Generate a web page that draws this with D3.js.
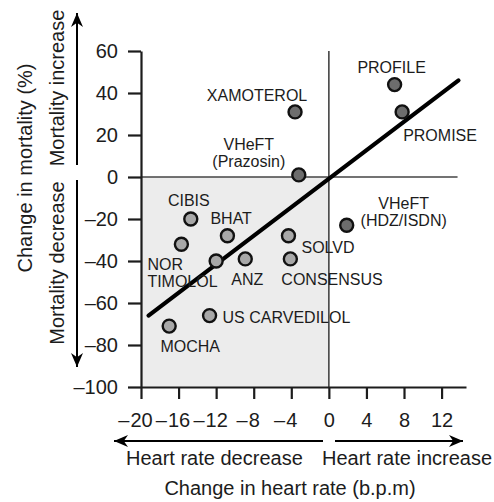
<!DOCTYPE html>
<html>
<head>
<meta charset="utf-8">
<script src="https://cdn.jsdelivr.net/npm/d3@7"></script>
<style>
  body { margin: 0; background: #fff; }
  svg { display: block; font-family: "Liberation Sans", Arial, sans-serif; }
</style>
</head>
<body>
<div id="chart"></div>
<script>
// trial data
const trials = ["PROFILE", "PROMISE", "XAMOTEROL", "VHeFT (Prazosin)", "VHeFT (HDZ/ISDN)",
                "SOLVD", "CONSENSUS", "CIBIS", "BHAT", "NOR TIMOLOL", "TIMOLOL pt", "ANZ",
                "US CARVEDILOL", "MOCHA"];
const heartRate = [7, 7.8, -3.6, -3.2, 1.9, -4.3, -4.1, -14.7, -10.8, -15.7, -12, -8.9, -12.7, -17];
const mortality = [44, 31, 31, 1, -23, -28, -39, -20, -28, -32, -40, -39, -66, -71];
const increased = [true, true, true, true, true, false, false, false, false, false, false, false, false, false];

// label text lines for each trial
const labelLines = [["PROFILE"], ["PROMISE"], ["XAMOTEROL"], ["VHeFT", "(Prazosin)"], ["VHeFT", "(HDZ/ISDN)"],
                    ["SOLVD"], ["CONSENSUS"], ["CIBIS"], ["BHAT"], ["NOR", "TIMOLOL"], [], ["ANZ"],
                    ["US CARVEDILOL"], ["MOCHA"]];

// regression line end points
const fitX = [-19.2, 13.8];
const fitY = [-66, 46];

const xTicks = [-20, -16, -12, -8, -4, 0, 4, 8, 12];
const yTicks = [-100, -80, -60, -40, -20, 0, 20, 40, 60];

// label placement (px offsets from the point, anchor)
const labelPlace = [
  { dx: -3, dy: -12, a: "middle" },
  { dx: 1, dy: 29, a: "start" },
  { dx: -38, dy: -11, a: "middle" },
  { dx: -50, dy: -25, a: "middle" },
  { dx: 57, dy: -16, a: "middle" },
  { dx: 13, dy: 17, a: "start" },
  { dx: -9, dy: 26, a: "start" },
  { dx: -2, dy: -13, a: "middle" },
  { dx: -17, dy: -12, a: "start" },
  { dx: -34, dy: 26, a: "start" },
  { dx: 0, dy: 0, a: "start" },
  { dx: 2, dy: 26, a: "middle" },
  { dx: 13, dy: 7, a: "start" },
  { dx: 21, dy: 26, a: "middle" }
];

const W = 494, H = 502;
const ink = "#1c1c1c";

const svg = d3.select("#chart").append("svg")
    .attr("width", W)
    .attr("height", H);

const x = d3.scaleLinear().domain([-20, 14.6]).range([141, 466]);
const y = d3.scaleLinear().domain([-100, 60]).range([387, 51]);

// shaded quadrant (heart rate down, mortality down)
svg.append("rect")
    .attr("x", x(-20))
    .attr("y", y(0))
    .attr("width", x(0) - x(-20))
    .attr("height", y(-100) - y(0))
    .attr("fill", "#ececec");

// zero lines
svg.append("line")
    .attr("x1", x(0)).attr("x2", x(0))
    .attr("y1", y(60)).attr("y2", y(-100))
    .attr("stroke", "#444").attr("stroke-width", 1.6);
svg.append("line")
    .attr("x1", x(-20)).attr("x2", x(13.7))
    .attr("y1", y(0)).attr("y2", y(0))
    .attr("stroke", "#444").attr("stroke-width", 1.6);

// axes
function styleAxis(g) {
  g.select(".domain").attr("stroke", ink).attr("stroke-width", 2.2);
  g.selectAll(".tick line").attr("stroke", ink).attr("stroke-width", 2.2);
  g.selectAll(".tick text").attr("fill", ink).style("font-size", "20px");
}

const xAxis = svg.append("g")
    .attr("transform", `translate(0,${y(-100)})`)
    .call(d3.axisBottom(x).tickValues(xTicks).tickSize(12).tickSizeOuter(0).tickPadding(14)
            .tickFormat(d => Math.abs(d)))
    .call(styleAxis);

// hang the minus sign to the left of the digits so the digits sit on the tick
xAxis.selectAll(".tick").each(function(d) {
  if (d >= 0) return;
  const t = d3.select(this).select("text");
  const w = t.node().getComputedTextLength();
  d3.select(this).append("text")
      .attr("x", -w / 2 - 1)
      .attr("y", t.attr("y"))
      .attr("dy", t.attr("dy"))
      .attr("text-anchor", "end")
      .attr("fill", ink)
      .style("font-size", "20px")
      .text("\u2013");
});

svg.append("g")
    .attr("transform", `translate(${x(-20)},0)`)
    .call(d3.axisLeft(y).tickValues(yTicks).tickSize(13).tickSizeOuter(0).tickPadding(10)
            .tickFormat(d => d < 0 ? "\u2013" + Math.abs(d) : d))
    .call(styleAxis);

// fitted line
svg.append("line")
    .attr("x1", x(fitX[0])).attr("y1", y(fitY[0]))
    .attr("x2", x(fitX[1])).attr("y2", y(fitY[1]))
    .attr("stroke", "#000")
    .attr("stroke-width", 4.2)
    .attr("stroke-linecap", "round");

// points
const pts = trials.map((t, i) => ({ name: t, hr: heartRate[i], m: mortality[i], up: increased[i], i }));

svg.selectAll(".dot")
  .data(pts)
  .enter().append("circle")
    .attr("class", "dot")
    .attr("cx", d => x(d.hr))
    .attr("cy", d => y(d.m))
    .attr("r", 6.5)
    .attr("fill", d => d.up ? "#6d6d6d" : "#a8a8a8")
    .attr("stroke", "#111")
    .attr("stroke-width", 2.4);

// point labels
pts.forEach(d => {
  const p = labelPlace[d.i];
  const lines = labelLines[d.i];
  lines.forEach((s, k) => {
    svg.append("text")
        .attr("x", x(d.hr) + p.dx)
        .attr("y", y(d.m) + p.dy + k * 17)
        .attr("text-anchor", p.a)
        .attr("fill", ink)
        .style("font-size", "16px")
        .text(s);
  });
});

// direction arrows
function arrow(x1, y1, x2, y2) {
  svg.append("line")
      .attr("x1", x1).attr("y1", y1).attr("x2", x2).attr("y2", y2)
      .attr("stroke", "#000").attr("stroke-width", 2);
  const ang = Math.atan2(y2 - y1, x2 - x1);
  const L = 14, Wd = 6;
  const bx = x2 - L * Math.cos(ang), by = y2 - L * Math.sin(ang);
  const nx = -Math.sin(ang), ny = Math.cos(ang);
  const ix = x2 - 0.7 * L * Math.cos(ang), iy = y2 - 0.7 * L * Math.sin(ang);
  svg.append("path")
      .attr("d", `M${x2},${y2}L${bx + nx * Wd},${by + ny * Wd}L${ix},${iy}L${bx - nx * Wd},${by - ny * Wd}Z`)
      .attr("fill", "#000");
}
arrow(77, 165, 77, 13);
arrow(77, 180, 77, 367);
arrow(323, 441, 114, 441);
arrow(335, 441, 463, 441);

// axis titles
svg.append("text")
    .attr("transform", "translate(32,168) rotate(-90)")
    .attr("text-anchor", "middle")
    .attr("fill", ink)
    .style("font-size", "20px")
    .text("Change in mortality (%)");
svg.append("text")
    .attr("transform", "translate(64,88) rotate(-90)")
    .attr("text-anchor", "middle")
    .attr("fill", ink)
    .style("font-size", "20px")
    .text("Mortality increase");
svg.append("text")
    .attr("transform", "translate(64,263) rotate(-90)")
    .attr("text-anchor", "middle")
    .attr("fill", ink)
    .style("font-size", "20px")
    .text("Mortality decrease");

svg.append("text")
    .attr("x", 126).attr("y", 465)
    .attr("fill", ink)
    .style("font-size", "20px")
    .text("Heart rate decrease");
svg.append("text")
    .attr("x", 322).attr("y", 465)
    .attr("fill", ink)
    .style("font-size", "20px")
    .text("Heart rate increase");
svg.append("text")
    .attr("x", 290).attr("y", 495)
    .attr("text-anchor", "middle")
    .attr("fill", ink)
    .style("font-size", "20px")
    .text("Change in heart rate (b.p.m)");
</script>
</body>
</html>
